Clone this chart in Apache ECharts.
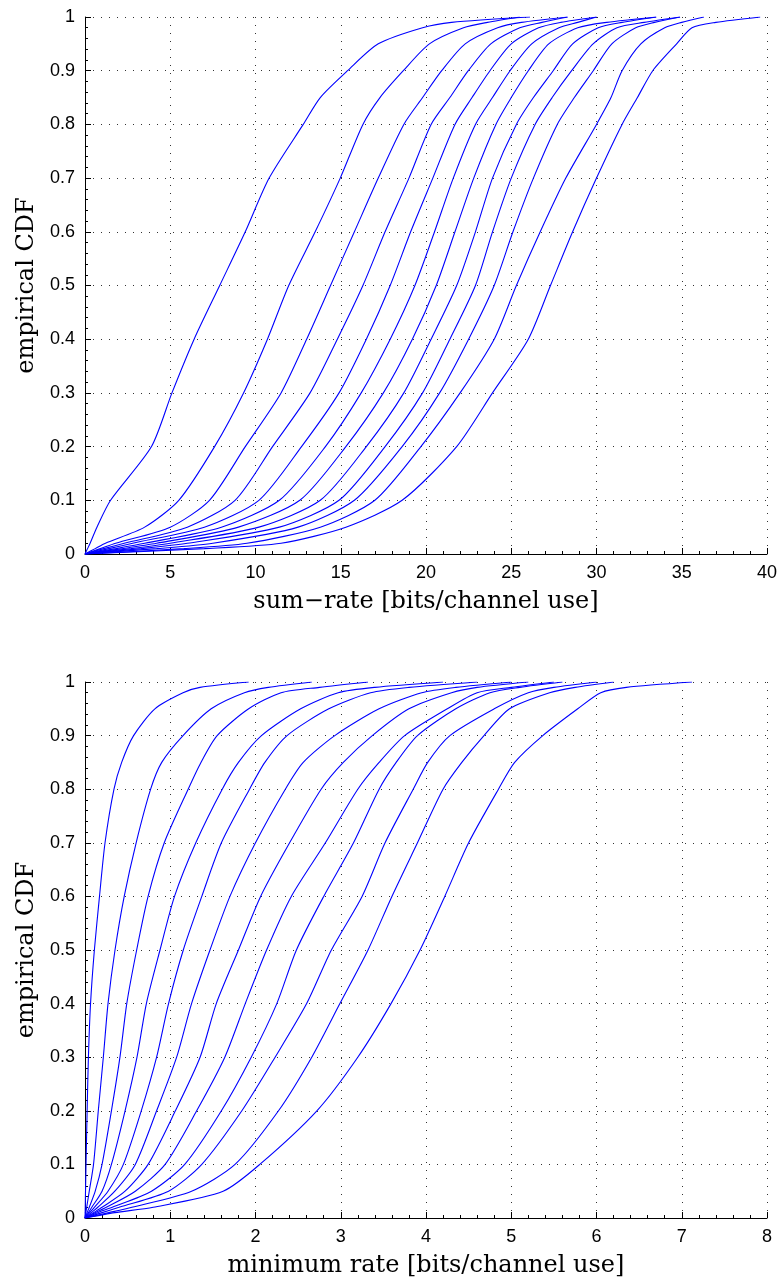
<!DOCTYPE html>
<html>
<head>
<meta charset="utf-8">
<script src="https://cdn.jsdelivr.net/npm/echarts@6/dist/echarts.min.js"></script>
<style>
html,body{margin:0;padding:0;background:#fff;}
#chart{width:781px;height:1281px;}
</style>
</head>
<body>
<div id="chart"></div>
<script>
// ---- Top panel: empirical CDF of sum-rate (x value reached at each CDF level) ----
const topLevels = [0,0.01,0.02,0.05,0.1,0.2,0.3,0.4,0.5,0.6,0.7,0.8,0.85,0.9,0.95,0.98,0.99,1];
const topC1  = [0,0.15,0.3,0.7,1.5,3.9,5.1,6.4,7.9,9.4,10.8,12.8,13.8,15.4,17.2,19.8,21.5,26.1];
const topC2  = [0,0.6,1.2,3.5,5.5,7.6,9.3,10.7,11.95,13.5,14.97,16.3,17.3,18.67,20.2,22.2,23.6,25.5];
const topC3  = [0,0.9,1.8,5.0,7.3,9.4,11.5,13.0,14.4,15.8,17.2,18.7,19.8,20.92,22.3,24.2,25.6,28.3];
const topC4  = [0,1.1,2.3,6.0,8.8,11.0,13.2,14.8,16.3,17.6,19.0,20.3,21.4,22.48,23.8,25.5,26.8,28.3];
const topC5  = [0,1.4,2.8,7.0,10.2,12.7,14.9,16.5,17.9,19.1,20.4,21.7,22.7,23.75,25.0,26.6,27.9,30.0];
const topC6  = [0,1.8,3.5,8.0,11.4,14.1,16.2,17.9,19.35,20.5,21.6,22.9,23.9,24.93,26.2,27.8,28.9,30.0];
const topC7  = [0,2.2,4.2,9.0,12.6,15.3,17.5,19.2,20.6,21.7,22.8,24.1,25.0,26.0,27.2,28.9,30.6,33.5];
const topC8  = [0,2.7,5.0,10.2,13.8,16.5,18.7,20.3,21.8,22.9,23.9,25.3,26.3,27.46,28.6,30.1,31.5,33.5];
const topC9  = [0,3.3,6.0,11.4,14.9,17.6,19.8,21.4,22.9,23.9,25.0,26.4,27.4,28.54,29.8,31.2,32.8,34.9];
const topC10 = [0,4.2,7.5,12.5,15.8,18.6,20.8,22.5,24.0,25.1,26.3,27.7,28.7,29.81,30.9,32.3,33.4,34.9];
const topC11 = [0,5.8,9.5,13.8,17.0,19.7,22.0,24.0,25.3,26.7,28.2,30.0,30.85,31.5,32.6,34.0,35.0,36.3];
const topC12 = [0,7.0,11.5,15.3,18.6,21.8,23.9,26.0,27.3,28.6,30.0,31.5,32.4,33.3,34.7,35.6,37.0,39.6];
const topCurves = [topC1,topC2,topC3,topC4,topC5,topC6,topC7,topC8,topC9,topC10,topC11,topC12];

// ---- Bottom panel: empirical CDF of minimum rate ----
const botLevels = [0,0.01,0.02,0.05,0.1,0.2,0.3,0.4,0.5,0.6,0.7,0.8,0.85,0.9,0.95,0.98,0.99,1];
const botC1  = [0,0.002,0.003,0.006,0.012,0.025,0.04,0.065,0.11,0.17,0.235,0.34,0.43,0.57,0.82,1.15,1.35,1.92];
const botC2  = [0,0.01,0.02,0.05,0.1,0.156,0.215,0.27,0.352,0.46,0.60,0.77,0.90,1.15,1.48,1.87,2.15,2.66];
const botC3  = [0,0.025,0.05,0.12,0.2,0.31,0.41,0.49,0.606,0.74,0.93,1.21,1.36,1.55,1.92,2.3,2.75,3.32];
const botC4  = [0,0.04,0.08,0.2,0.31,0.47,0.61,0.72,0.88,1.05,1.30,1.61,1.80,2.07,2.53,2.97,3.4,4.2];
const botC5  = [0,0.055,0.11,0.27,0.45,0.66,0.84,0.98,1.153,1.37,1.6,1.93,2.11,2.37,2.86,3.35,3.8,4.6];
const botC6  = [0,0.075,0.15,0.35,0.59,0.84,1.075,1.25,1.466,1.7,2.0,2.35,2.56,2.93,3.45,3.95,4.35,5.0];
const botC7  = [0,0.1,0.2,0.47,0.74,1.06,1.35,1.54,1.8,2.06,2.4,2.77,3.03,3.37,3.8,4.3,4.6,5.2];
const botC8  = [0,0.12,0.25,0.59,0.94,1.31,1.64,1.88,2.13,2.42,2.82,3.2,3.45,3.75,4.25,4.6,5.0,5.5];
const botC9  = [0,0.15,0.32,0.78,1.17,1.6,1.95,2.25,2.48,2.8,3.15,3.45,3.65,3.9,4.35,4.75,5.1,5.6];
const botC10 = [0,0.2,0.4,0.98,1.37,1.84,2.23,2.6,2.89,3.25,3.52,3.85,4.02,4.28,4.8,5.2,5.5,6.0];
const botC11 = [0,0.28,0.55,1.25,1.76,2.27,2.66,2.99,3.32,3.6,3.9,4.2,4.42,4.68,4.98,5.45,5.75,6.2];
const botC12 = [0,0.35,0.8,1.62,2.05,2.72,3.2,3.59,3.93,4.22,4.5,4.85,5.04,5.37,5.78,6.05,6.35,7.12];
const botCurves = [botC1,botC2,botC3,botC4,botC5,botC6,botC7,botC8,botC9,botC10,botC11,botC12];

const yTicks = [0,0.1,0.2,0.3,0.4,0.5,0.6,0.7,0.8,0.9,1];
const topXTicks = [0,5,10,15,20,25,30,35,40];
const botXTicks = [0,1,2,3,4,5,6,7,8];
const topXTitle = 'sum\u2212rate [bits/channel use]';
const botXTitle = 'minimum rate [bits/channel use]';
const yTitle = 'empirical CDF';

const tickFont = {fontFamily:'"Liberation Sans", Arial, sans-serif', fontSize:18, color:'#000'};
const titleFont = {fontFamily:'"DejaVu Serif", serif', fontSize:24, color:'#000'};
const gridLine = {show:true, lineStyle:{color:'#333', width:1, type:[1,7]}};

function xAxisDef(gi, ticks, title){
  return {
    type:'value', gridIndex:gi, min:ticks[0], max:ticks[ticks.length-1],
    interval:ticks[1]-ticks[0],
    axisLine:{show:true, onZero:false, lineStyle:{color:'#000', width:1}},
    axisTick:{show:true, inside:true, length:6, lineStyle:{color:'#000'}},
    minorTick:{show:true, splitNumber:5, length:3, lineStyle:{color:'#000'}},
    axisLabel:Object.assign({margin:10}, tickFont),
    splitLine:gridLine,
    name:title, nameLocation:'middle', nameGap:36, nameTextStyle:titleFont
  };
}
function yAxisDef(gi){
  return {
    type:'value', gridIndex:gi, min:yTicks[0], max:yTicks[yTicks.length-1], interval:0.1,
    axisLine:{show:true, onZero:false, lineStyle:{color:'#000', width:1}},
    axisTick:{show:true, inside:true, length:6, lineStyle:{color:'#000'}},
    minorTick:{show:true, splitNumber:5, length:3, lineStyle:{color:'#000'}},
    axisLabel:Object.assign({margin:10, formatter:function(v){return String(Math.round(v*10)/10);}}, tickFont),
    splitLine:gridLine,
    name:yTitle, nameLocation:'middle', nameGap:45, nameRotate:90, nameTextStyle:titleFont
  };
}

const series = [];
topCurves.forEach(function(xs){
  series.push({type:'line', xAxisIndex:0, yAxisIndex:0, showSymbol:false, symbol:'none',
    smooth:0.25,
    lineStyle:{color:'#0000ff', width:1.1}, data: xs.map(function(x,i){return [x, topLevels[i]];})});
});
botCurves.forEach(function(xs){
  series.push({type:'line', xAxisIndex:1, yAxisIndex:1, showSymbol:false, symbol:'none',
    smooth:0.25,
    lineStyle:{color:'#0000ff', width:1.1}, data: xs.map(function(x,i){return [x, botLevels[i]];})});
});

const chart = echarts.init(document.getElementById('chart'), null, {renderer:'canvas'});
chart.setOption({
  animation:false,
  backgroundColor:'#fff',
  grid:[
    {left:85, top:17, width:682, height:537},
    {left:85, top:682, width:682, height:536}
  ],
  xAxis:[xAxisDef(0, topXTicks, topXTitle), xAxisDef(1, botXTicks, botXTitle)],
  yAxis:[yAxisDef(0), yAxisDef(1)],
  series:series
});
</script>
</body>
</html>
